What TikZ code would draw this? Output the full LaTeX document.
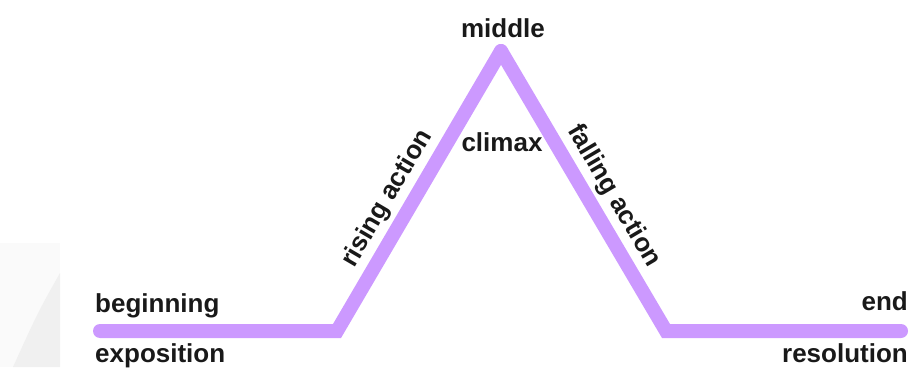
\documentclass[tikz,border=0pt]{standalone}
\usepackage{fontspec}
\setmainfont{Liberation Sans}
\definecolor{plotviolet}{RGB}{204, 153, 255}

\begin{document}
\begin{tikzpicture}[x=1pt, y=1pt,
    arc line/.style={line width=14pt, draw=plotviolet, line cap=round, line join=miter},
    lbl/.style={font=\bfseries\fontsize{26}{30}\selectfont, text=black!90, inner sep=0pt}]
                    \useasboundingbox (0,0) rectangle (912,367);
                    % faint background shape at the left edge
                    \fill[black!2] (0,0) rectangle (60,124);
                    \fill[black!6] (60,94) .. controls (38,55) .. (13,0) -- (60,0) -- cycle;

                    \coordinate (S) at (100,36);
                    \coordinate (L) at (337,36);
                    \coordinate (P) at (501,316);
                    \coordinate (R) at (666,36);
                    \coordinate (E) at (901,36);

                    \draw[arc line] (S) -- (L) -- (P);
                    \draw[arc line] (P) -- (R) -- (E);

                    \node[lbl, anchor=base west] (beg) at (95,55) {beginning};
                    \node[lbl, anchor=base west] (expo) at (95,5) {exposition};
                    \node[lbl, anchor=base east] (end) at (908,57) {end};
                    \node[lbl, anchor=base east] (reso) at (908,5) {resolution};
                    \node[lbl, anchor=base] (mid) at (503,329) {middle};
                    \node[lbl, anchor=base] (clim) at (502,215) {climax};

                    \path (L) -- (P) node[lbl, pos=0.43, sloped, above=11pt] (rise) {rising action};
                    \path (P) -- (R) node[lbl, pos=0.56, sloped, above=11pt] (fall) {falling action};
                \end{tikzpicture}
\end{document}
